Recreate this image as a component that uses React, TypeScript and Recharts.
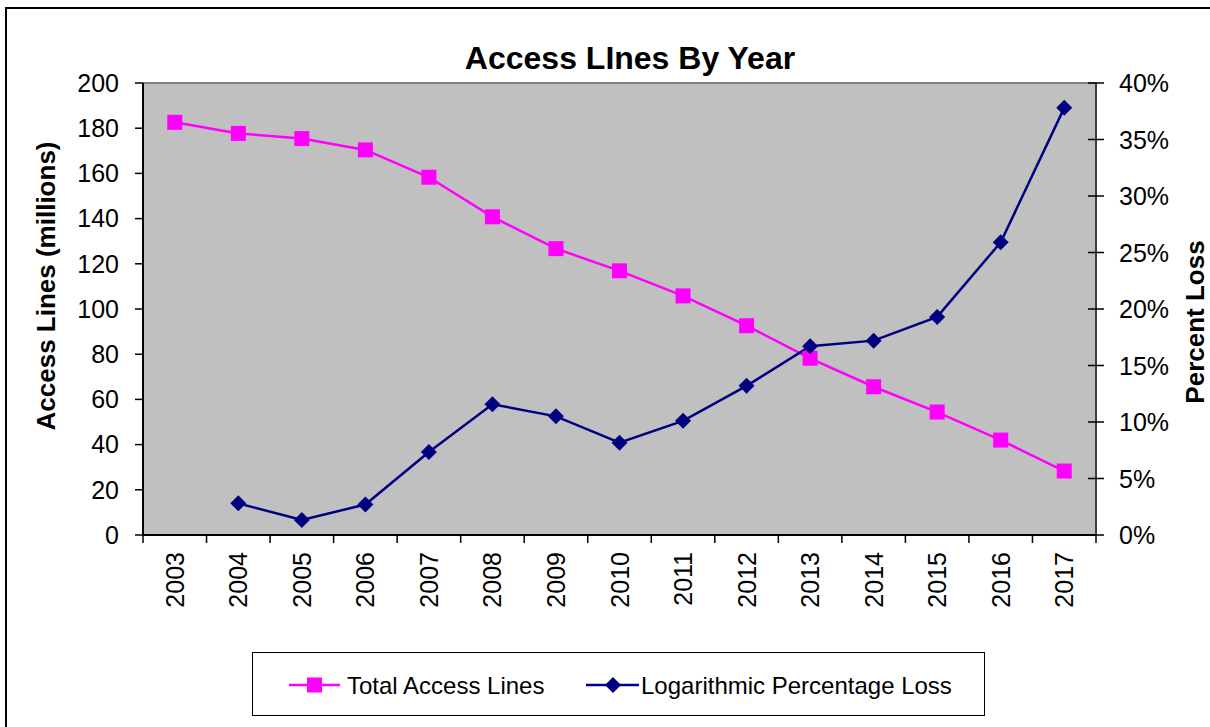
import React from 'react';
import { LineChart, Line, XAxis, YAxis, CartesianGrid, ReferenceLine } from 'recharts';

// categories and series
const years = ['2003', '2004', '2005', '2006', '2007', '2008', '2009', '2010', '2011', '2012', '2013', '2014', '2015', '2016', '2017'];
const totalLines = [182.6, 177.7, 175.4, 170.4, 158.3, 140.8, 126.7, 116.9, 105.8, 92.6, 78.2, 65.6, 54.4, 42.0, 28.3];
const pctLoss: (number | null)[] = [null, 0.028, 0.0133, 0.027, 0.0735, 0.1157, 0.105, 0.0817, 0.101, 0.132, 0.167, 0.172, 0.193, 0.259, 0.378];
const leftTicks = [0, 20, 40, 60, 80, 100, 120, 140, 160, 180, 200];
const rightTicks = [0, 0.05, 0.1, 0.15, 0.2, 0.25, 0.3, 0.35, 0.4];

const SERIES_LINES = 'Total Access Lines';
const SERIES_LOSS = 'Logarithmic Percentage Loss';

const data = years.map((y, i) => ({ year: y, lines: totalLines[i], loss: pctLoss[i] }));

const FONT = '"Liberation Sans", Arial, sans-serif';
const MAGENTA = '#ff00ff';
const NAVY = '#000080';

const SquareDot = (p: any) => {
  if (p.cx == null || p.cy == null || p.value == null) return null;
  return <rect key={p.index} x={p.cx - 7.5} y={p.cy - 7.5} width={15} height={15} fill={MAGENTA} />;
};

const DiamondDot = (p: any) => {
  if (p.cx == null || p.cy == null || p.value == null) return null;
  const r = 8;
  return (
    <polygon
      key={p.index}
      points={`${p.cx},${p.cy - r} ${p.cx + r},${p.cy} ${p.cx},${p.cy + r} ${p.cx - r},${p.cy}`}
      fill={NAVY}
    />
  );
};

// year labels rotated, with tick marks at the category boundaries
const YearTick = (p: any) => {
  const { x, y, payload, index, width } = p;
  const off = payload?.offset || (width ? width / years.length / 2 : 31.75);
  return (
    <g>
      <line x1={x - off} y1={y} x2={x - off} y2={y + 8} stroke="#000" strokeWidth={1.5} />
      {index === years.length - 1 && (
        <line x1={x + off} y1={y} x2={x + off} y2={y + 8} stroke="#000" strokeWidth={1.5} />
      )}
      <text
        x={x}
        y={y + 17}
        dy="0.36em"
        textAnchor="end"
        transform={`rotate(-90, ${x}, ${y + 17})`}
        fontSize={25}
        fontFamily={FONT}
        fill="#000"
      >
        {payload.value}
      </text>
    </g>
  );
};

const PctTick = (p: any) => {
  const { x, y, payload } = p;
  return (
    <g>
      <line x1={x - 8} y1={y} x2={x + 8} y2={y} stroke="#000" strokeWidth={1.5} />
      <text x={x + 23} y={y} dy="0.36em" textAnchor="start" fontSize={25} fontFamily={FONT} fill="#000">
        {`${Math.round(payload.value * 100)}%`}
      </text>
    </g>
  );
};

export default function App() {
  return (
    <div style={{ position: 'absolute', left: 0, top: 0, width: 1210, height: 727, background: '#fff', overflow: 'hidden', fontFamily: FONT }}>
      <LineChart width={1210} height={727} data={data} margin={{ top: 83, right: 0, bottom: 0, left: 0 }}>
        <rect x={6} y={8} width={1300} height={900} fill="none" stroke="#000" strokeWidth={2} />
        <CartesianGrid fill="#c0c0c0" horizontal={false} vertical={false} />
        <XAxis
          dataKey="year"
          scale="band"
          height={192}
          interval={0}
          tickLine={false}
          tickSize={0}
          tickMargin={0}
          axisLine={{ stroke: '#000', strokeWidth: 2 }}
          tick={<YearTick />}
        />
        <YAxis
          yAxisId="left"
          width={143}
          domain={[0, 200]}
          ticks={leftTicks}
          interval={0}
          tickSize={8}
          tickMargin={16}
          axisLine={{ stroke: '#000', strokeWidth: 2 }}
          tickLine={{ stroke: '#000', strokeWidth: 1.5 }}
          tick={{ fill: '#000', fontSize: 25, fontFamily: FONT }}
        />
        <YAxis
          yAxisId="right"
          orientation="right"
          width={114}
          domain={[0, 0.4]}
          ticks={rightTicks}
          interval={0}
          tickSize={0}
          tickMargin={0}
          tickLine={false}
          axisLine={{ stroke: '#404040', strokeWidth: 2 }}
          tick={<PctTick />}
        />
        <ReferenceLine yAxisId="left" y={200} stroke="#808080" strokeWidth={2} />
        <Line
          yAxisId="left"
          dataKey="lines"
          name={SERIES_LINES}
          stroke={MAGENTA}
          strokeWidth={2.5}
          dot={<SquareDot />}
          activeDot={false}
          isAnimationActive={false}
        />
        <Line
          yAxisId="right"
          dataKey="loss"
          name={SERIES_LOSS}
          stroke={NAVY}
          strokeWidth={2.5}
          dot={<DiamondDot />}
          activeDot={false}
          isAnimationActive={false}
        />
        <text x={630} y={69} textAnchor="middle" fontSize={32} fontWeight="bold" fontFamily={FONT} fill="#000">
          Access LInes By Year
        </text>
        <text
          x={46}
          y={286}
          dy="0.36em"
          textAnchor="middle"
          transform="rotate(-90, 46, 286)"
          fontSize={26}
          fontWeight="bold"
          fontFamily={FONT}
          fill="#000"
        >
          Access Lines (millions)
        </text>
        <text
          x={1195}
          y={322}
          dy="0.36em"
          textAnchor="middle"
          transform="rotate(-90, 1195, 322)"
          fontSize={26}
          fontWeight="bold"
          fontFamily={FONT}
          fill="#000"
        >
          Percent Loss
        </text>
      </LineChart>

      {/* legend box */}
      <div
        style={{
          position: 'absolute',
          left: 252,
          top: 652,
          width: 733,
          height: 64,
          border: '1.5px solid #000',
          boxSizing: 'border-box',
          background: '#fff',
        }}
      >
        <svg width={733} height={64} style={{ position: 'absolute', left: 0, top: 0 }}>
          <line x1={36} y1={32} x2={87} y2={32} stroke={MAGENTA} strokeWidth={2.5} />
          <rect x={54} y={24.5} width={15} height={15} fill={MAGENTA} />
          <text x={94} y={32} dy="0.36em" fontSize={24} fontFamily={FONT} fill="#000">
            {SERIES_LINES}
          </text>
          <line x1={333} y1={32} x2={386} y2={32} stroke={NAVY} strokeWidth={2.5} />
          <polygon points="360,24 368,32 360,40 352,32" fill={NAVY} />
          <text x={388} y={32} dy="0.36em" fontSize={24} fontFamily={FONT} fill="#000">
            {SERIES_LOSS}
          </text>
        </svg>
      </div>
    </div>
  );
}
